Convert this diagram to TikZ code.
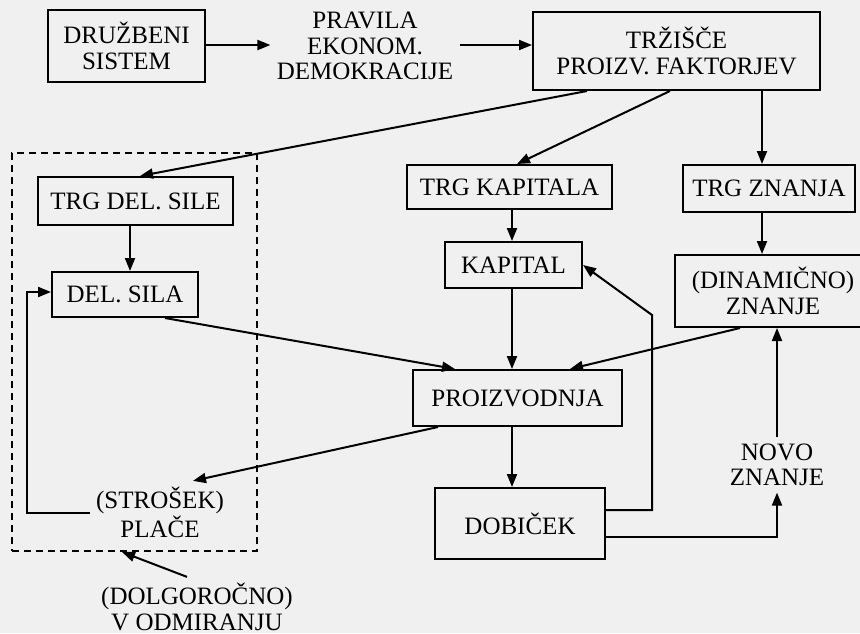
\documentclass[tikz,border=0pt]{standalone}
\usepackage{fontspec}
\setmainfont{Liberation Serif}
\usetikzlibrary{arrows.meta}

\begin{document}
\begin{tikzpicture}[
            x=0.5pt, y=-0.5pt,
            font=\fontsize{12.5}{12.8}\selectfont,
            box/.style={draw, line width=1pt, align=center, inner sep=0pt},
            bare/.style={align=center, inner sep=3pt},
            frame/.style={draw, line width=1pt, dash pattern=on 3.5pt off 2.5pt, inner sep=0pt},
            arr/.style={line width=1pt, -{Triangle[length=6.5pt, width=5pt]}}
        ]
            \path[use as bounding box, fill=black!6] (0,0) rectangle (860,633);

            \node[frame, minimum width=122.5pt, minimum height=199pt] (okvir) at (134.5,352) {};

            \node[box, minimum width=78.5pt, minimum height=36pt] (sistem) at (126.5,46) {DRUŽBENI\\SISTEM};
            \node[bare] (pravila) at (365,46) {PRAVILA\\EKONOM.\\DEMOKRACIJE};
            \node[box, minimum width=143.5pt, minimum height=39pt] (trzisce) at (676.5,51) {TRŽIŠČE\\PROIZV. FAKTORJEV};

            \node[box, minimum width=97.5pt, minimum height=24pt] (trgdel) at (135.5,201) {TRG DEL. SILE};
            \node[box, minimum width=102.5pt, minimum height=22pt] (trgkap) at (509.5,187) {TRG KAPITALA};
            \node[box, minimum width=86pt, minimum height=23.5pt] (trgzn) at (769,188.5) {TRG ZNANJA};

            \node[box, minimum width=73pt, minimum height=22.5pt] (delsila) at (125,294.5) {DEL. SILA};
            \node[box, minimum width=68.5pt, minimum height=23pt] (kapital) at (513.5,265) {KAPITAL};
            \node[box, minimum width=98pt, minimum height=36pt] (dinam) at (773,291) {(DINAMIČNO)\\ZNANJE};

            \node[box, minimum width=104.5pt, minimum height=28pt] (proiz) at (517.5,398) {PROIZVODNJA};
            \node[box, minimum width=85pt, minimum height=35.5pt] (dobicek) at (520,523.5) {DOBIČEK};

            \node[bare] (place) at (160,512.5) {(STROŠEK)\\PLAČE};
            \node[bare] (novo) at (777,465) {NOVO\\ZNANJE};
            \node[bare] (dolgo) at (197,607) {(DOLGOROČNO)\\V ODMIRANJU};

            \draw[arr] (sistem.east |- 0,45) -- (pravila.west |- 0,45);
            \draw[arr] (pravila.east |- 0,45) -- (trzisce.west |- 0,45);

            \draw[arr] (trzisce.south -| 587,0) -- (trgdel.north -| 140,0);
            \draw[arr] (trzisce.south -| 670,0) -- (trgkap.north -| 517,0);
            \draw[arr] (trzisce.south -| 762,0) -- (trgzn.north -| 762,0);

            \draw[arr] (trgdel.south -| 130,0) -- (delsila.north -| 130,0);
            \draw[arr] (trgkap.south -| 512,0) -- (kapital.north -| 512,0);
            \draw[arr] (trgzn.south -| 762,0) -- (dinam.north -| 762,0);

            \draw[arr] (delsila.south -| 165,0) -- (proiz.north -| 455,0);
            \draw[arr] (kapital.south -| 512,0) -- (proiz.north -| 512,0);
            \draw[arr] (dinam.south -| 740,0) -- (proiz.north -| 570,0);

            \draw[arr] (proiz.south -| 512,0) -- (dobicek.north -| 512,0);
            \draw[arr] (proiz.south -| 438,0) -- (place.north -| 193,0);
            \draw[arr] (place.west |- 0,513) -- (27,513) -- (27,292) -- (delsila.west |- 0,292);

            \draw[arr] (dobicek.east |- 0,510) -- (652,510) -- (652,315) -- (kapital.east);
            \draw[arr] (dobicek.east |- 0,537) -| (novo.south);
            \draw[arr] (novo.north) -- (dinam.south -| novo.north);

            \draw[arr] (dolgo.north -| 187,0) -- (okvir.south -| 122,0);
        \end{tikzpicture}
\end{document}
